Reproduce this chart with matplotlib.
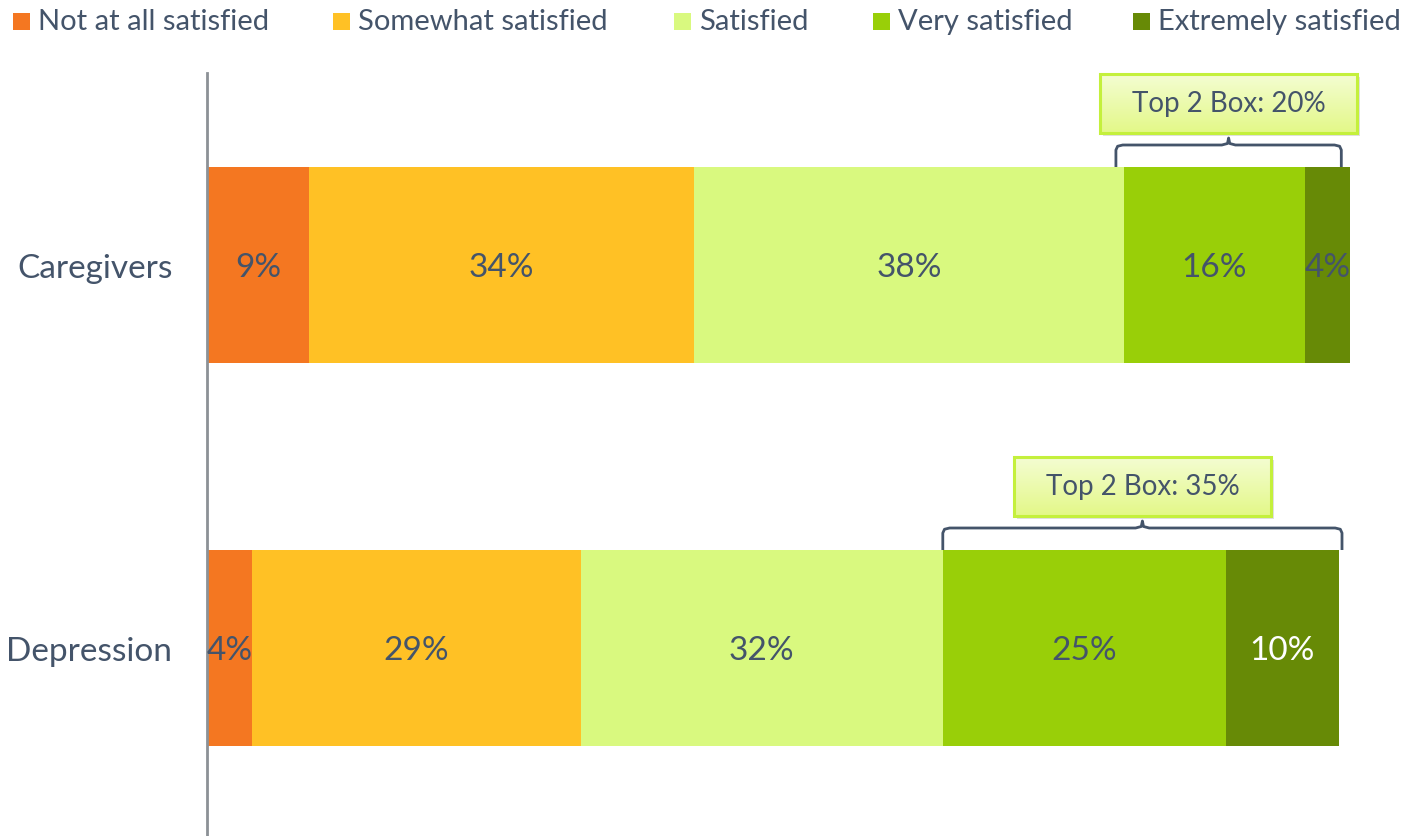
import matplotlib
matplotlib.use("Agg")
import matplotlib.pyplot as plt
import numpy as np
from matplotlib.patches import Rectangle

plt.rcParams['font.family'] = ['Lato', 'DejaVu Sans']

groups = ["Caregivers", "Depression"]
levels = ["Not at all satisfied", "Somewhat satisfied", "Satisfied",
          "Very satisfied", "Extremely satisfied"]
values = {
    "Caregivers": [9, 34, 38, 16, 4],
    "Depression": [4, 29, 32, 25, 10],
}
top2_labels = ["Top 2 Box: 20%", "Top 2 Box: 35%"]

colors = ["#F47721", "#FFC125", "#D9F97F", "#99CF08", "#678A06"]
text_col = "#44546A"

W, H = 1412, 837
fig = plt.figure(figsize=(W / 100, H / 100), dpi=100)
ax_left = 207 / W
ax_top_px = 74
ax = fig.add_axes([ax_left, 0, 1 - ax_left, (H - ax_top_px) / H])

pxu = 11.32  # pixels per percent
spacing = 383.0
bar_h = 196 / spacing

for gi, g in enumerate(groups):
    left = 0
    for li, v in enumerate(values[g]):
        ax.barh(gi, v, left=left, height=bar_h, color=colors[li], edgecolor='none')
        tc = "white" if (g == "Depression" and li == 4) else text_col
        ax.text(left + v / 2, gi + 2 / spacing, f"{v}%", ha='center', va='center',
                fontsize=24, color=tc)
        left += v

# Brackets and callouts
py = 1 / spacing  # data units per pixel (y)
bracket_shift_px = [(-8, -9), (0, 3)]
for gi, g in enumerate(groups):
    vals = values[g]
    x0 = sum(vals[:3]) + bracket_shift_px[gi][0] / pxu
    x1 = sum(vals) + bracket_shift_px[gi][1] / pxu
    xm = (x0 + x1) / 2
    ybar = gi - bar_h / 2
    yflat = ybar - 22 * py
    ypeak = yflat - 10 * py
    rx = 0.6
    ry = 5 * py
    xs = [x0, x0, x0 + 0.15, x0 + rx, xm - rx, xm - 0.1, xm, xm, xm + 0.1, xm + rx, x1 - rx, x1 - 0.15, x1, x1]
    ys = [ybar, yflat + ry, yflat + ry * 0.25, yflat, yflat, yflat - ry * 0.3, ypeak + 3 * py, ypeak + 3 * py,
          yflat - ry * 0.3, yflat, yflat, yflat + ry * 0.25, yflat + ry, ybar]
    ax.plot(xs, ys, color=text_col, lw=2, solid_capstyle='butt', clip_on=False)

    bw = 257 / pxu
    bh = 59 * py
    bx0 = xm - bw / 2
    by1 = ypeak - 2 * py
    by0 = by1 - bh
    # shadow
    ax.add_patch(Rectangle((bx0 + 3 / pxu, by0 + 3 * py), bw, bh, facecolor="#000000",
                           alpha=0.12, edgecolor='none', clip_on=False, zorder=3))
    grad = np.linspace(0, 1, 64).reshape(-1, 1)
    c_top = np.array([0xF4, 0xFD, 0xD2]) / 255
    c_bot = np.array([0xE3, 0xF8, 0x88]) / 255
    img = c_top[None, None, :] * (1 - grad[:, :, None]) + c_bot[None, None, :] * grad[:, :, None]
    ax.imshow(img, extent=(bx0, bx0 + bw, by1, by0), aspect='auto', zorder=4,
              clip_on=False, interpolation='bilinear')
    ax.add_patch(Rectangle((bx0, by0), bw, bh, facecolor='none', edgecolor="#C4F03C",
                           lw=2.2, clip_on=False, zorder=5))
    ax.text(xm, (by0 + by1) / 2, top2_labels[gi], ha='center', va='center',
            fontsize=20, color=text_col, zorder=6)

ax.set_xlim(0, (W - 207) / pxu)
ax.set_ylim(1 + 188 / spacing, -192 / spacing)
ax.set_yticks(range(len(groups)))
ax.set_yticklabels(groups, fontsize=24, color=text_col)
ax.tick_params(axis='y', length=0, pad=25)
ax.set_xticks([])
for s in ['top', 'right', 'bottom']:
    ax.spines[s].set_visible(False)
ax.spines['left'].set_color("#8C9196")
ax.spines['left'].set_linewidth(2)

# Legend (manual)
sq_x = [13, 333, 674, 873, 1133]
sq = 17
ly = 22
for li, lab in enumerate(levels):
    fig.patches.append(Rectangle(((sq_x[li]) / W, 1 - (ly + sq / 2) / H), sq / W, sq / H,
                                 facecolor=colors[li], edgecolor='none',
                                 transform=fig.transFigure, figure=fig))
    fig.text((sq_x[li] + sq + 8) / W, 1 - ly / H, lab, ha='left', va='center',
             fontsize=21, color=text_col)

fig.savefig("out.png", dpi=100)
